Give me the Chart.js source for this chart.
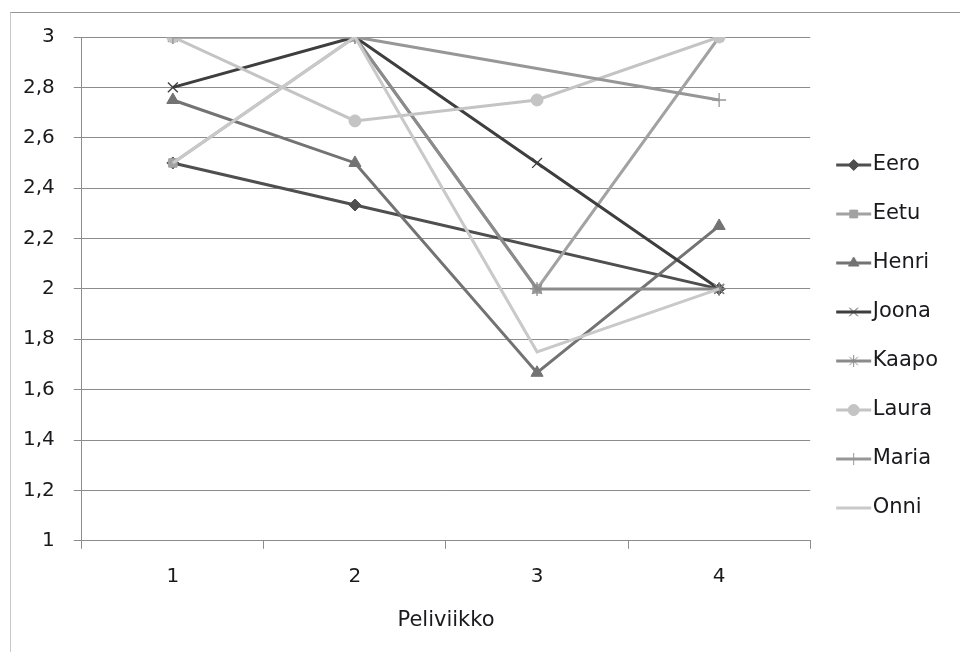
<!DOCTYPE html>
<html>
<head>
<meta charset="utf-8">
<script src="https://cdn.jsdelivr.net/npm/chart.js@4/dist/chart.umd.min.js"></script>
<style>
  html, body { margin: 0; padding: 0; background: #fff; }
  #wrap { position: relative; width: 960px; height: 652px; }
  #frame { position: absolute; left: 10px; top: 12px; right: -2px; bottom: -2px;
           border-top: 1px solid #969696; border-left: 1px solid #c8c8c8; pointer-events: none; }
  canvas { position: absolute; left: 0; top: 0; }
</style>
</head>
<body>
<div id="wrap">
  <canvas id="c" width="960" height="652"></canvas>
  <div id="frame"></div>
</div>
<script>
// ---- data ----
const weeks = ['1', '2', '3', '4'];
const yTickLabels = ['1', '1,2', '1,4', '1,6', '1,8', '2', '2,2', '2,4', '2,6', '2,8', '3'];
const xTitle = 'Peliviikko';

const eero  = [2.5, 2.333, null, 2];
const eetu  = [2.5, 3, 2, 3];
const henri = [2.75, 2.5, 1.667, 2.25];
const joona = [2.8, 3, 2.5, 2];
const kaapo = [3, 3, 2, 2];
const laura = [3, 2.667, 2.75, 3];
const maria = [3, 3, null, 2.75];
const onni  = [2.5, 3, 1.75, 2];

const seriesNames = ['Eero', 'Eetu', 'Henri', 'Joona', 'Kaapo', 'Laura', 'Maria', 'Onni'];
const seriesValues = [eero, eetu, henri, joona, kaapo, laura, maria, onni];
const seriesColors = ['#4f4f4f', '#a2a2a2', '#737373', '#3e3e3e', '#8b8b8b', '#c4c4c4', '#979797', '#c9c9c9'];
const seriesMarkers = ['rectRot', 'rect', 'triangle', 'crossRot', 'star', 'circle', 'cross', false];
const markerRadius = [6, 6, 7, 7, 7, 6, 7, 0];
const legendRadius = [5.5, 5.5, 6, 6, 6, 5.5, 6, 0];

const FONT = "'DejaVu Sans', sans-serif";
const TEXT = '#1a1a1e';

function legendImage(i) {
  const cv = document.createElement('canvas');
  cv.width = 44; cv.height = 18;
  const ctx = cv.getContext('2d');
  ctx.strokeStyle = seriesColors[i];
  ctx.lineWidth = 3;
  ctx.beginPath(); ctx.moveTo(8, 9); ctx.lineTo(43, 9); ctx.stroke();
  if (seriesMarkers[i]) {
    ctx.fillStyle = seriesColors[i];
    ctx.strokeStyle = seriesColors[i];
    ctx.lineWidth = 1;
    Chart.helpers.drawPoint(ctx, { pointStyle: seriesMarkers[i], radius: legendRadius[i], rotation: 0, borderWidth: 1 }, 25.5, 9);
    if (seriesMarkers[i] !== 'crossRot' && seriesMarkers[i] !== 'cross' && seriesMarkers[i] !== 'star') ctx.fill();
  }
  return cv;
}

const datasets = seriesNames.map((name, i) => ({
  label: name,
  data: seriesValues[i],
  borderColor: seriesColors[i],
  backgroundColor: seriesColors[i],
  borderWidth: 3,
  pointStyle: seriesMarkers[i],
  pointRadius: markerRadius[i],
  pointHoverRadius: markerRadius[i],
  pointBorderWidth: (seriesMarkers[i] === 'crossRot' || seriesMarkers[i] === 'cross' || seriesMarkers[i] === 'star') ? 1.3 : 1,
  pointBackgroundColor: seriesColors[i],
  pointBorderColor: seriesColors[i],
  spanGaps: true,
  tension: 0,
  order: seriesNames.length - 1 - i,
  legendImg: legendImage(i)
}));

new Chart(document.getElementById('c'), {
  type: 'line',
  data: { labels: weeks, datasets },
  options: {
    responsive: false,
    animation: false,
    events: [],
    layout: { padding: { top: 37, right: 12, bottom: 16, left: 4 } },
    plugins: {
      tooltip: { enabled: false },
      legend: {
        position: 'right',
        align: 'center',
        labels: {
          usePointStyle: true,
          pointStyleWidth: 24,
          padding: 28,
          color: TEXT,
          font: { family: FONT, size: 21 },
          generateLabels(chart) {
            return chart.data.datasets.map((ds, i) => ({
              text: ds.label,
              pointStyle: ds.legendImg,
              fillStyle: ds.borderColor,
              strokeStyle: ds.borderColor,
              lineWidth: 0,
              fontColor: TEXT,
              hidden: false,
              datasetIndex: i
            }));
          }
        }
      }
    },
    scales: {
      x: {
        offset: true,
        grid: { display: true, drawOnChartArea: false, offset: true, color: '#8c8c8c', tickLength: 8, lineWidth: 1 },
        border: { display: true, color: '#8c8c8c', width: 1 },
        ticks: { color: TEXT, font: { family: FONT, size: 20 }, padding: 16 },
        title: { display: true, text: xTitle, color: TEXT, font: { family: FONT, size: 21 }, padding: { top: 3, bottom: 3 } }
      },
      y: {
        min: 1, max: 3,
        grid: { color: '#8c8c8c', tickLength: 8, lineWidth: 1 },
        border: { display: true, color: '#8c8c8c', width: 1 },
        ticks: {
          stepSize: 0.2,
          color: TEXT,
          font: { family: FONT, size: 20 },
          padding: 19,
          callback: (v, idx) => yTickLabels[idx]
        }
      }
    }
  }
});
</script>
</body>
</html>
